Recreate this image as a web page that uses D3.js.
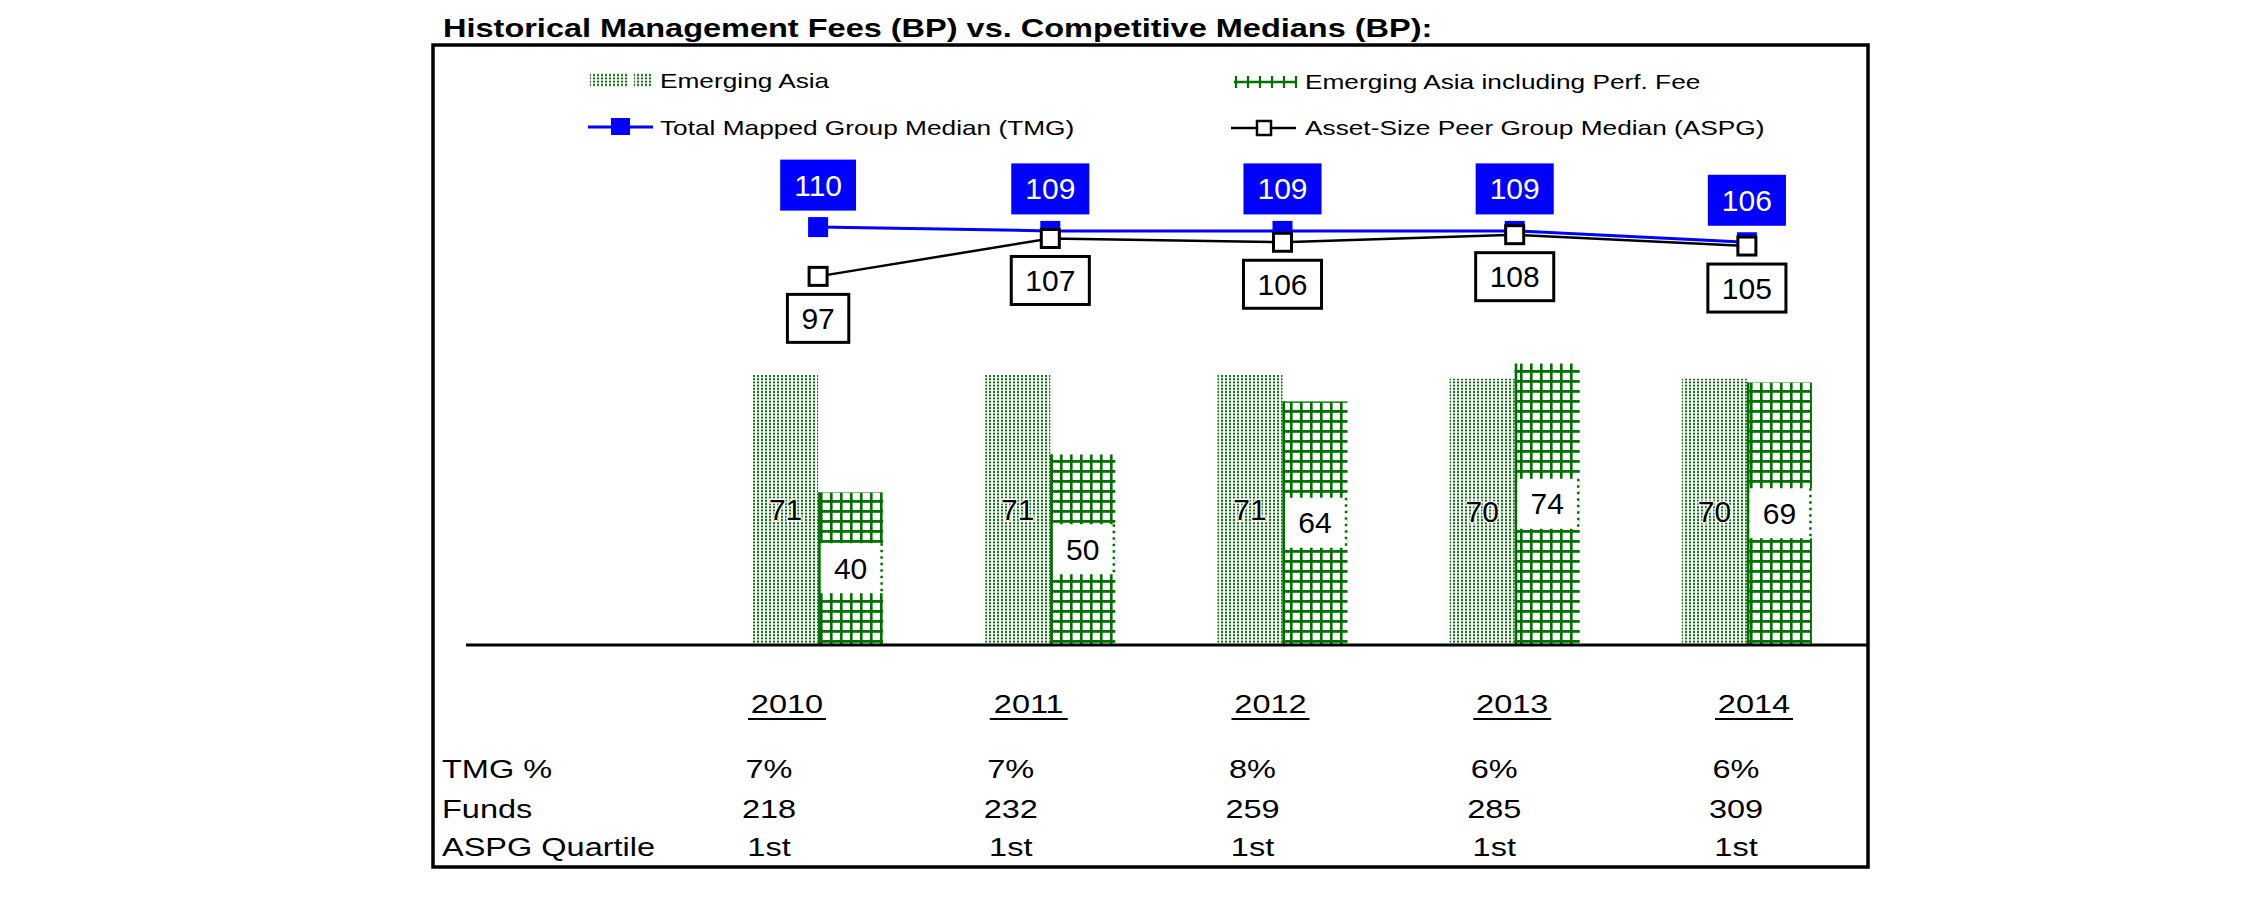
<!DOCTYPE html>
<html><head><meta charset="utf-8">
<script src="https://cdn.jsdelivr.net/npm/d3@7"></script>
<style>
html,body{margin:0;padding:0;background:#fff;}
svg{display:block;}
text{font-family:"Liberation Sans",Arial,sans-serif;fill:#000;}
</style>
</head><body>
<svg id="chart" width="2251" height="898"></svg>
<script>
// ---------- DATA ----------
const title = "Historical Management Fees (BP) vs. Competitive Medians (BP):";
const years = ["2010", "2011", "2012", "2013", "2014"];
const emergingAsia = [71, 71, 71, 70, 70];
const emergingAsiaPerf = [40, 50, 64, 74, 69];
const tmgMedian = [110, 109, 109, 109, 106];
const aspgMedian = [97, 107, 106, 108, 105];
const seriesNames = ["Emerging Asia", "Emerging Asia including Perf. Fee",
  "Total Mapped Group Median (TMG)", "Asset-Size Peer Group Median (ASPG)"];
const rowLabels = ["TMG %", "Funds", "ASPG Quartile"];
const tmgPct = ["7%", "7%", "8%", "6%", "6%"];
const funds = ["218", "232", "259", "285", "309"];
const aspgQuartile = ["1st", "1st", "1st", "1st", "1st"];
const tableRows = [tmgPct, funds, aspgQuartile];

// ---------- LAYOUT ----------
const GREEN = "#007000", BLUE = "#0000ff";
const SX = 1.25; // horizontal stretch of the table/legend text in the reference
const svg = d3.select("#chart");

const x = d3.scaleBand().domain(years).range([702, 1863]).paddingInner(0.44).paddingOuter(0.22);
const xs = d3.scaleBand().domain(["ea", "pf"]).range([0, x.bandwidth()]);
const y = d3.scaleLinear().domain([0, 100]).range([644, 265]);
const cx = d => x(d) + x.bandwidth() / 2;
const tableX = d3.scalePoint().domain(years).range([787, 1754]);

// patterns
const defs = svg.append("defs");
const pEA = defs.append("pattern").attr("id", "pEA").attr("patternUnits", "userSpaceOnUse")
  .attr("width", 4).attr("height", 3.2);
pEA.append("rect").attr("width", 4).attr("height", 3.2).attr("fill", "#fff");
pEA.append("rect").attr("x", 1).attr("y", 0.6).attr("width", 2).attr("height", 2).attr("fill", GREEN);
const pPF = defs.append("pattern").attr("id", "pPF").attr("patternUnits", "userSpaceOnUse")
  .attr("width", 10).attr("height", 10);
pPF.append("rect").attr("width", 10).attr("height", 10).attr("fill", "#fff");
pPF.append("rect").attr("x", 0).attr("y", 0).attr("width", 2.6).attr("height", 10).attr("fill", GREEN);
pPF.append("rect").attr("x", 0).attr("y", 0).attr("width", 10).attr("height", 2.8).attr("fill", GREEN);

function stext(g, px, py, str, size, sx, anchor, weight) {
  return g.append("text")
    .attr("transform", `translate(${px},${py}) scale(${sx},1)`)
    .attr("text-anchor", anchor || "start")
    .attr("font-size", size)
    .attr("font-weight", weight || "normal")
    .text(str);
}

// title
stext(svg, 443, 37, title, 26, 1.25, "start", "bold");

// frame
svg.append("rect").attr("x", 433).attr("y", 45).attr("width", 1435).attr("height", 822)
  .attr("fill", "none").attr("stroke", "#000").attr("stroke-width", 3.5);

// ---------- LEGEND ----------
const lg = svg.append("g");
lg.append("rect").attr("x", 590).attr("y", 73).attr("width", 38).attr("height", 14).attr("fill", "url(#pEA)");
lg.append("rect").attr("x", 634).attr("y", 73).attr("width", 17).attr("height", 14).attr("fill", "url(#pEA)");
stext(lg, 660, 88, seriesNames[0], 21, SX);

lg.append("line").attr("x1", 1234).attr("x2", 1296).attr("y1", 82).attr("y2", 82)
  .attr("stroke", GREEN).attr("stroke-width", 2.5);
lg.selectAll("line.tick").data(d3.range(6)).join("line").attr("class", "tick")
  .attr("x1", i => 1236 + i * 12).attr("x2", i => 1236 + i * 12)
  .attr("y1", 76).attr("y2", 88).attr("stroke", GREEN).attr("stroke-width", 2.2);
stext(lg, 1305, 89, seriesNames[1], 21, SX);

lg.append("line").attr("x1", 588).attr("x2", 653).attr("y1", 127).attr("y2", 127)
  .attr("stroke", BLUE).attr("stroke-width", 3);
lg.append("rect").attr("x", 611).attr("y", 118).attr("width", 19).attr("height", 17).attr("fill", BLUE);
stext(lg, 660, 135, seriesNames[2], 21, SX);

lg.append("line").attr("x1", 1231).attr("x2", 1296).attr("y1", 128).attr("y2", 128)
  .attr("stroke", "#000").attr("stroke-width", 2.5);
lg.append("rect").attr("x", 1257).attr("y", 121).attr("width", 14).attr("height", 14)
  .attr("fill", "#fff").attr("stroke", "#000").attr("stroke-width", 2.5);
stext(lg, 1305, 135, seriesNames[3], 21, SX);

// ---------- BARS ----------
const barsData = years.map((yr, i) => ({ yr, ea: emergingAsia[i], pf: emergingAsiaPerf[i] }));
const bg = svg.append("g");
bg.selectAll("rect.ea").data(barsData).join("rect").attr("class", "ea")
  .attr("x", d => x(d.yr) + xs("ea")).attr("width", xs.bandwidth())
  .attr("y", d => y(d.ea)).attr("height", d => y(0) - y(d.ea))
  .attr("fill", "url(#pEA)");
bg.selectAll("rect.pf").data(barsData).join("rect").attr("class", "pf")
  .attr("x", d => x(d.yr) + xs("pf")).attr("width", xs.bandwidth())
  .attr("y", d => y(d.pf)).attr("height", d => y(0) - y(d.pf))
  .attr("fill", "url(#pPF)");
bg.selectAll("line.pfedge").data(barsData).join("line").attr("class", "pfedge")
  .attr("x1", d => x(d.yr) + xs("pf") + 1.3).attr("x2", d => x(d.yr) + xs("pf") + 1.3)
  .attr("y1", d => y(d.pf)).attr("y2", y(0))
  .attr("stroke", GREEN).attr("stroke-width", 2.6);

// PF label boxes
bg.selectAll("rect.pfbox").data(barsData).join("rect").attr("class", "pfbox")
  .attr("x", d => x(d.yr) + xs("pf") + 2.6).attr("width", xs.bandwidth() - 2.6)
  .attr("y", d => (y(0) + y(d.pf)) / 2 - 25).attr("height", 50).attr("fill", "#fff");
bg.selectAll("line.pfdot").data(barsData).join("line").attr("class", "pfdot")
  .attr("x1", d => x(d.yr) + xs("pf") + xs.bandwidth() - 1.5)
  .attr("x2", d => x(d.yr) + xs("pf") + xs.bandwidth() - 1.5)
  .attr("y1", d => (y(0) + y(d.pf)) / 2 - 25).attr("y2", d => (y(0) + y(d.pf)) / 2 + 25)
  .attr("stroke", GREEN).attr("stroke-width", 2.5).attr("stroke-dasharray", "2.5,4");
bg.selectAll("text.pfl").data(barsData).join("text").attr("class", "pfl")
  .attr("x", d => x(d.yr) + xs("pf") + xs.bandwidth() / 2)
  .attr("y", d => (y(0) + y(d.pf)) / 2 + 10.5)
  .attr("text-anchor", "middle").attr("font-size", 30).text(d => d.pf);
bg.selectAll("text.eal").data(barsData).join("text").attr("class", "eal")
  .attr("x", d => x(d.yr) + xs("ea") + xs.bandwidth() / 2)
  .attr("y", d => (y(0) + y(d.ea)) / 2 + 10.5)
  .attr("text-anchor", "middle").attr("font-size", 30)
  .attr("stroke", "#fff").attr("stroke-width", 3).attr("stroke-opacity", 0.8).attr("paint-order", "stroke")
  .text(d => d.ea);

// baseline
svg.append("line").attr("x1", 466).attr("x2", 1868).attr("y1", y(0) + 1).attr("y2", y(0) + 1)
  .attr("stroke", "#000").attr("stroke-width", 3);

// ---------- LINES ----------
const tmgData = years.map((yr, i) => ({ yr, v: tmgMedian[i] }));
const aspgData = years.map((yr, i) => ({ yr, v: aspgMedian[i] }));
const line = d3.line().x(d => cx(d.yr)).y(d => y(d.v));
const lgL = svg.append("g");
lgL.append("path").datum(tmgData).attr("d", line).attr("fill", "none").attr("stroke", BLUE).attr("stroke-width", 3);
lgL.append("path").datum(aspgData).attr("d", line).attr("fill", "none").attr("stroke", "#000").attr("stroke-width", 2.5);
lgL.selectAll("rect.tm").data(tmgData).join("rect").attr("class", "tm")
  .attr("x", d => cx(d.yr) - 10).attr("y", d => y(d.v) - 10).attr("width", 20).attr("height", 20).attr("fill", BLUE);
lgL.selectAll("rect.am").data(aspgData).join("rect").attr("class", "am")
  .attr("x", d => cx(d.yr) - 9).attr("y", d => y(d.v) - 9).attr("width", 18).attr("height", 18)
  .attr("fill", "#fff").attr("stroke", "#000").attr("stroke-width", 3);

// value boxes
function valueBox(g, d, dy, fill, stroke, textFill) {
  const gg = g.append("g");
  const r = gg.append("rect").attr("fill", fill);
  if (stroke) r.attr("stroke", stroke).attr("stroke-width", 3);
  const t = gg.append("text").attr("x", cx(d.yr)).attr("y", y(d.v) + dy + 10.5)
    .attr("text-anchor", "middle").attr("font-size", 30).style("fill", textFill).text(d.v);
  const w = t.node().getComputedTextLength() + 28;
  const h = stroke ? 48 : 51;
  r.attr("x", cx(d.yr) - w / 2).attr("y", y(d.v) + dy - h / 2).attr("width", w).attr("height", h);
}
tmgData.forEach(d => valueBox(lgL, d, -42, BLUE, null, "#fff"));
aspgData.forEach(d => valueBox(lgL, d, 42, "#fff", "#000", "#000"));

// ---------- TABLE ----------
const tg = svg.append("g");
years.forEach(yr => {
  stext(tg, tableX(yr), 713, yr, 26, SX, "middle");
  tg.append("line").attr("x1", tableX(yr) - 39).attr("x2", tableX(yr) + 39)
    .attr("y1", 719).attr("y2", 719).attr("stroke", "#000").attr("stroke-width", 2.2);
});
const rowY = [778, 818, 856];
rowLabels.forEach((lab, r) => {
  stext(tg, 442, rowY[r], lab, 26, SX, "start");
  tableRows[r].forEach((val, i) => stext(tg, tableX(years[i]) - 18, rowY[r], val, 26, SX, "middle"));
});
</script>
</body></html>
